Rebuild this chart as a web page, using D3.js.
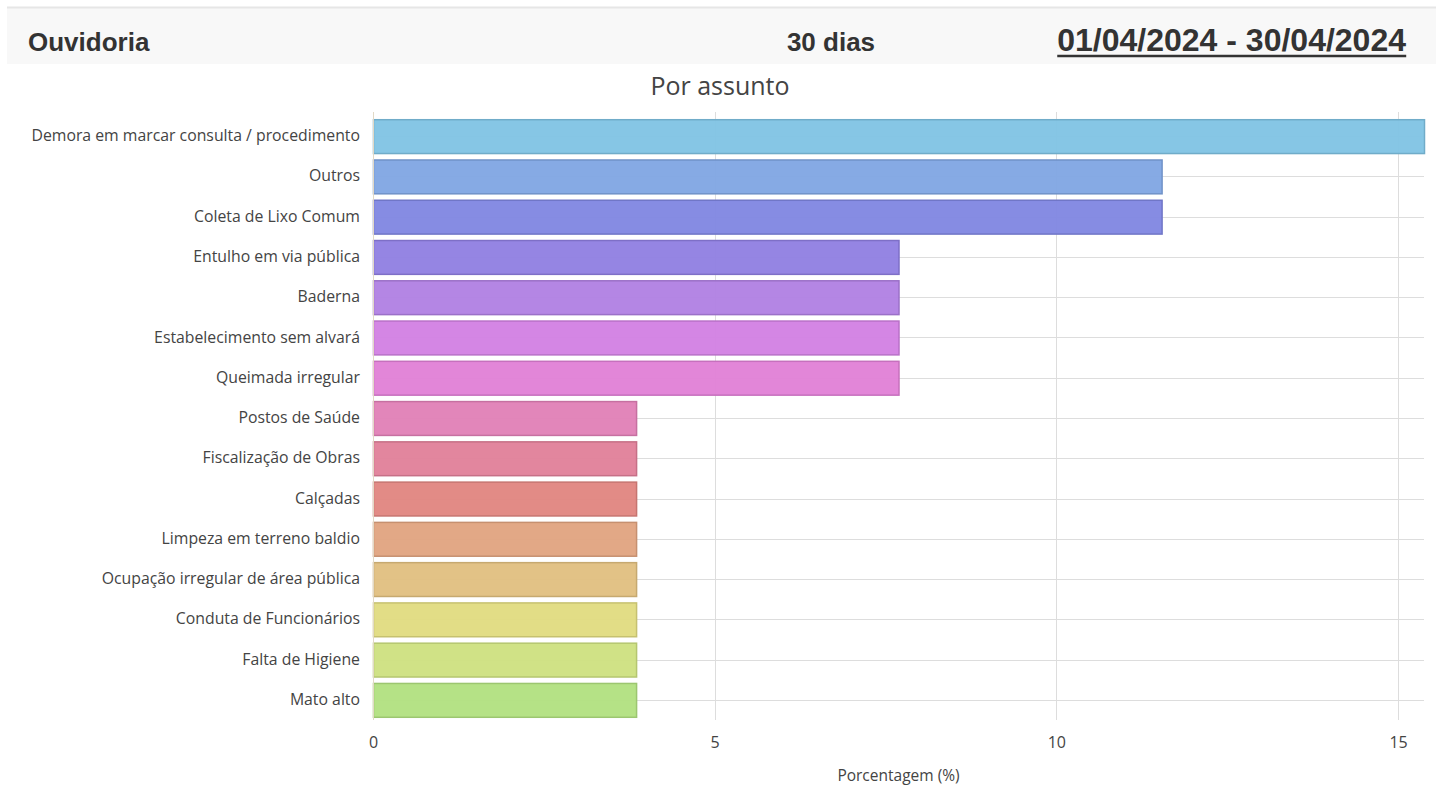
<!DOCTYPE html>
<html>
<head>
<meta charset="utf-8">
<script src="https://cdn.jsdelivr.net/npm/d3@7"></script>
<style>
  html, body { margin: 0; padding: 0; background: #fff; }
  svg { display: block; }
</style>
</head>
<body>
<svg id="chart"></svg>
<script>
const width = 1443;
const height = 787;

// data
const categories = [
  "Demora em marcar consulta / procedimento",
  "Outros",
  "Coleta de Lixo Comum",
  "Entulho em via pública",
  "Baderna",
  "Estabelecimento sem alvará",
  "Queimada irregular",
  "Postos de Saúde",
  "Fiscalização de Obras",
  "Calçadas",
  "Limpeza em terreno baldio",
  "Ocupação irregular de área pública",
  "Conduta de Funcionários",
  "Falta de Higiene",
  "Mato alto"
];
const percentages = [15.38, 11.54, 11.54, 7.69, 7.69, 7.69, 7.69, 3.85, 3.85, 3.85, 3.85, 3.85, 3.85, 3.85, 3.85];
const barColors = [
  "#7fc3e4", "#7fa5e3", "#7f86e2", "#8f7ee2", "#b07fe3", "#d27fe3", "#e07fd6",
  "#e07fb6", "#e07f99", "#e0857f", "#e0a37f", "#e0bf7f", "#e0db7f", "#cde07f", "#b1e07f"
];
const xTicks = [0, 5, 10, 15];

const data = categories.map((c, i) => ({ name: c, value: percentages[i], color: barColors[i] }));

const svg = d3.select("#chart")
    .attr("width", width)
    .attr("height", height)
    .attr("style", "font-family: 'Open Sans', sans-serif;");

// header band
svg.append("rect")
    .attr("x", 7).attr("y", 8).attr("width", 1429).attr("height", 56)
    .attr("fill", "#f8f8f8");
svg.append("line")
    .attr("x1", 7).attr("x2", 1436).attr("y1", 7.5).attr("y2", 7.5)
    .attr("stroke", "#e6e6e6").attr("stroke-width", 2);

const header = svg.append("g")
    .attr("font-family", "'Liberation Sans', Arial, sans-serif")
    .attr("font-weight", "bold")
    .attr("fill", "#333");
header.append("text").attr("x", 28).attr("y", 51).attr("font-size", 26).text("Ouvidoria");
header.append("text").attr("x", 831).attr("y", 51).attr("font-size", 26)
    .attr("text-anchor", "middle").text("30 dias");
const dateText = header.append("text").attr("x", 1406).attr("y", 51).attr("font-size", 32)
    .attr("text-anchor", "end").text("01/04/2024 - 30/04/2024");
const bb = dateText.node().getBBox();
header.append("line")
    .attr("x1", bb.x).attr("x2", bb.x + bb.width)
    .attr("y1", 56).attr("y2", 56)
    .attr("stroke", "#333").attr("stroke-width", 2.5);

// chart title
svg.append("text")
    .attr("x", 720).attr("y", 95)
    .attr("text-anchor", "middle")
    .attr("font-size", 25)
    .attr("fill", "#444")
    .text("Por assunto");

const margin = { left: 373, right: 19, top: 116, bottom: 67 };

const x = d3.scaleLinear()
    .domain([0, d3.max(percentages)])
    .range([margin.left, width - margin.right]);

const y = d3.scaleBand()
    .domain(categories)
    .range([margin.top, height - margin.bottom])
    .paddingInner(0.16)
    .paddingOuter(0.08);

// horizontal gridlines at band centers
svg.append("g")
  .selectAll("line")
  .data(categories)
  .join("line")
    .attr("x1", x(0)).attr("x2", x.range()[1])
    .attr("y1", d => Math.round(y(d) + y.bandwidth() / 2) + 0.5)
    .attr("y2", d => Math.round(y(d) + y.bandwidth() / 2) + 0.5)
    .attr("stroke", "#ddd").attr("stroke-width", 1);

// vertical gridlines
svg.append("g")
  .selectAll("line")
  .data(xTicks.slice(1))
  .join("line")
    .attr("x1", d => Math.round(x(d)) + 0.5).attr("x2", d => Math.round(x(d)) + 0.5)
    .attr("y1", margin.top - 4).attr("y2", height - margin.bottom)
    .attr("stroke", "#ddd").attr("stroke-width", 1);

// bars
svg.append("g")
  .selectAll("rect")
  .data(data)
  .join("rect")
    .attr("x", x(0) + 0.5)
    .attr("y", d => y(d.name) + 0.5)
    .attr("width", d => x(d.value) - x(0))
    .attr("height", y.bandwidth())
    .attr("fill", d => d.color)
    .attr("fill-opacity", 0.95)
    .attr("stroke", d => d3.color(d.color).darker(0.35))
    .attr("stroke-width", 1.5);

// y axis line
svg.append("line")
    .attr("x1", x(0) + 0.5).attr("x2", x(0) + 0.5)
    .attr("y1", margin.top - 4).attr("y2", height - margin.bottom)
    .attr("stroke", "#e2d9c6").attr("stroke-width", 1);

// y labels
const yAxis = svg.append("g")
    .attr("transform", `translate(${x(0) - 13},0)`)
    .call(d3.axisLeft(y).tickSize(0).tickPadding(0));
yAxis.select(".domain").remove();
yAxis.selectAll("text")
    .attr("font-family", "'Open Sans', sans-serif")
    .attr("font-size", 15.8)
    .attr("fill", "#444");

// x axis labels
const xAxis = svg.append("g")
    .attr("transform", `translate(0,${height - margin.bottom})`)
    .call(d3.axisBottom(x).tickValues(xTicks).tickSize(0).tickPadding(17));
xAxis.select(".domain").remove();
xAxis.selectAll("text")
    .attr("font-family", "'Open Sans', sans-serif")
    .attr("font-size", 16)
    .attr("fill", "#444");

// x axis title
svg.append("text")
    .attr("x", (x.range()[0] + x.range()[1]) / 2)
    .attr("y", 781)
    .attr("text-anchor", "middle")
    .attr("font-size", 15.5)
    .attr("fill", "#444")
    .text("Porcentagem (%)");
</script>
</body>
</html>
